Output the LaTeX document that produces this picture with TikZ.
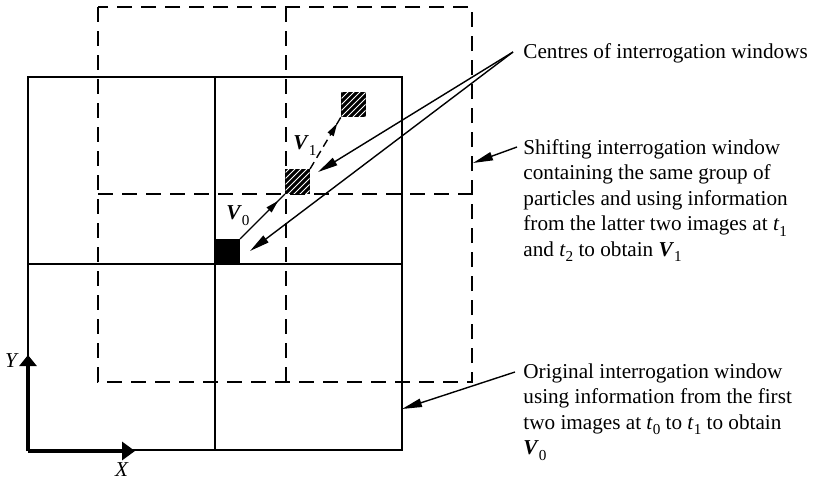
\documentclass[tikz,border=0pt]{standalone}
\usepackage{fontspec}
\setmainfont{Liberation Serif}
\usetikzlibrary{arrows.meta,patterns,decorations.markings,calc}
\newcommand{\mysb}[1]{\raisebox{-0.28em}{\fontsize{7.6}{8}\selectfont #1}}
\newcommand{\bV}{\textbf{\textit{V}}}
\newcommand{\ti}{\textit{t}}
\tikzset{
  solidline/.style={line width=1pt},
  dashline/.style={line width=1pt, dash pattern=on 7.5pt off 4.5pt},
  axisline/.style={line width=2pt},
  leader/.style={line width=0.7pt, -{Triangle[length=10pt,width=4.2pt]}},
  sq/.style={draw, line width=0.5pt, minimum size=12pt, inner sep=0pt, anchor=south west},
  blacksq/.style={sq, fill=black},
  hatchsq/.style={sq, fill=black, postaction={pattern=north east lines, pattern color=white}},
  lbl/.style={font=\fontsize{10.6}{12.75}\selectfont, inner sep=0pt},
  txt/.style={lbl, anchor=base west},
  midarrow/.style={postaction={decorate, decoration={markings,
     mark=at position #1 with {\arrow{Triangle[length=6.5pt,width=3.4pt]}}}}}
}
\begin{document}
\begin{tikzpicture}[x=0.5pt,y=-0.5pt]
\useasboundingbox (0,0) rectangle (813,482);
% solid original window
\draw[solidline] (28,77) rectangle (402,450);
\draw[solidline] (215,77) -- (215,450);
\draw[solidline] (28,264) -- (402,264);
% dashed shifted window
\draw[dashline] (98,7) rectangle (472,382);
\draw[dashline] (286,7) -- (286,382);
\draw[dashline] (98,194) -- (472,194);
% squares
\node[blacksq] (b0) at (215,264) {};
\node[hatchsq] (h1) at (285,194) {};
\node[hatchsq] (h2) at (341,117) {};
% displacement vectors
\draw[line width=0.7pt, midarrow=0.85] (b0.north east) -- (h1.south west);
\draw[line width=0.7pt, dash pattern=on 4pt off 2.5pt, midarrow=0.88] (h1.north east) -- (h2.south west);
\node[lbl] (v0) at (238,216) {\bV\mysb{0}};
\node[lbl] (v1) at (305,146) {\bV\mysb{1}};
% axes
\coordinate (O) at (28,451);
\coordinate (Yt) at (28,355);
\coordinate (Xt) at (135,451);
\draw[axisline, -{Triangle[length=5.5pt,width=8.5pt]}] (O) -- (Yt);
\draw[axisline, -{Triangle[length=6.5pt,width=9pt]}] (O) -- (Xt);
\node[lbl] (ylab) at (12,361) {\textit{Y}};
\node[lbl] (xlab) at (122,470) {\textit{X}};
% texts
\node[txt] (tc) at (523,58) {Centres of interrogation windows};
\node[txt] (ts) at (523,154) {\begin{tabular}[t]{@{}l@{}}Shifting interrogation window\\
containing the same group of\\
particles and using information\\
from the latter two images at \ti\mysb{1}\\
and \ti\mysb{2} to obtain \bV\mysb{1}\end{tabular}};
\node[txt] (to) at (523,378) {\begin{tabular}[t]{@{}l@{}}Original interrogation window\\
using information from the first\\
two images at \ti\mysb{0} to \ti\mysb{1} to obtain\\
\bV\mysb{0}\end{tabular}};
% leaders
\coordinate (cs) at (513,52);
\coordinate (c1) at (318,172);
\coordinate (c2) at (250,251);
\draw[leader] (cs) -- (c1);
\draw[leader] (cs) -- (c2);
\coordinate (ss) at (517,147);
\coordinate (st) at (473,163);
\draw[leader] (ss) -- (st);
\coordinate (os) at (515,372);
\coordinate (ot) at (402,409);
\draw[leader] (os) -- (ot);
\end{tikzpicture}
\end{document}
